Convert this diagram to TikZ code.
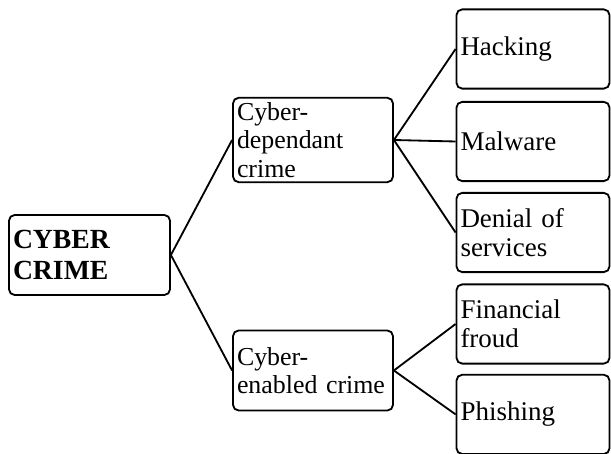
\documentclass[tikz,border=0pt]{standalone}
\usepackage{fontspec}
\setmainfont{Liberation Serif}
\usepackage{tikz}
\usetikzlibrary{positioning, arrows.meta}

\begin{document}
\begin{tikzpicture}[
  rootb/.style={rectangle, rounded corners=4pt, draw=black, line width=1.3pt,
                fill=white, minimum height=2.0cm, text width=3.825cm,
                inner xsep=0.1cm, align=left,
                font=\fontsize{19.7}{22.5}\selectfont\bfseries},
  midb/.style ={rectangle, rounded corners=4pt, draw=black, line width=1.3pt,
                fill=white, minimum height=2.0cm, text width=3.8cm,
                inner xsep=0.1cm, align=left,
                font=\fontsize{18.4}{20.2}\selectfont},
  leafb/.style={rectangle, rounded corners=4pt, draw=black, line width=1.3pt,
                fill=white, minimum height=1.98cm, text width=3.625cm,
                inner xsep=0.1cm, align=left,
                font=\fontsize{19.2}{20.5}\selectfont},
  conn/.style ={line width=1.3pt, color=black},
]
\useasboundingbox (0,0) rectangle (15.275, 11.35);

%% ═══ Raíz ═══
\node[rootb] (CC) at (2.2375, 4.975) {CYBER\\CRIME};

%% ═══ Nivel 1 ═══
\node[midb]  (CD) at (7.825, 7.85)   {Cyber-\\dependant\\crime};
\node[midb]  (CE) at (7.825, 2.0875) {Cyber-\\\mbox{enabled crime}};

%% ═══ Nivel 2 ═══
\node[leafb] (HA) at (13.325, 10.125) {Hacking};
\node[leafb] (MA) at (13.325, 7.8125) {Malware};
\node[leafb] (DE) at (13.325, 5.5375) {Denial of\\services};
\node[leafb] (FI) at (13.325, 3.25)   {Financial\\froud};
\node[leafb] (PH) at (13.325, 0.99)   {Phishing};

\draw[conn] (CC.east) -- (CD.west);
\draw[conn] (CC.east) -- (CE.west);
\draw[conn] (CD.east) -- (HA.west);
\draw[conn] (CD.east) -- (MA.west);
\draw[conn] (CD.east) -- (DE.west);
\draw[conn] (CE.east) -- (FI.west);
\draw[conn] (CE.east) -- (PH.west);

\end{tikzpicture}
\end{document}
